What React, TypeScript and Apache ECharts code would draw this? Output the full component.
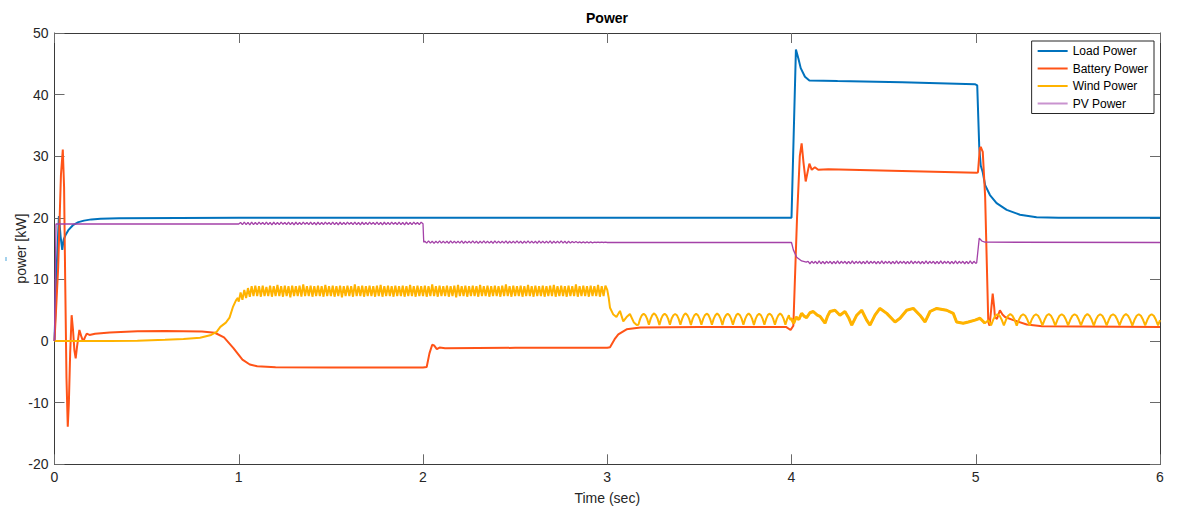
import React, { useEffect, useRef } from "react";
import * as echarts from "echarts";

const FONT = '"Liberation Sans", Arial, Helvetica, sans-serif';

const COLORS = {
  load: "#0072BD",
  battery: "#FF5317",
  wind: "#FFB300",
  pv: "#A442A8",
  pvLegend: "#C993CF",
};

const SERIES_NAMES = ["Load Power", "Battery Power", "Wind Power", "PV Power"];

// ---- Load Power [t (s), kW] ----
const loadPower: [number, number][] = [
  [0, 0], [0.012, 12], [0.024, 20.3], [0.033, 17], [0.042, 14.8], [0.05, 16.5], [0.06, 17.2],
  [0.075, 18.0], [0.1, 18.8], [0.13, 19.3], [0.16, 19.55], [0.2, 19.75], [0.25, 19.85],
  [0.35, 19.95], [1.0, 20.0], [2.0, 20.0], [3.0, 20.0], [4.0, 20.0], [4.024, 47.3],
  [4.037, 45.9], [4.05, 44.3], [4.073, 42.9], [4.097, 42.3], [4.25, 42.2], [4.6, 42.0],
  [4.995, 41.7], [5.008, 41.5], [5.019, 31.5], [5.027, 28.5], [5.038, 27.4], [5.051, 25.3],
  [5.077, 23.7], [5.113, 22.4], [5.168, 21.3], [5.24, 20.5], [5.33, 20.1], [5.45, 20.0],
  [6.0, 20.0],
];

// ---- Battery Power [t (s), kW] ----
const batteryPower: [number, number][] = [
  [0, 0], [0.02, 12], [0.035, 27], [0.045, 31.1], [0.052, 25], [0.058, 10], [0.065, -6],
  [0.072, -13.9], [0.078, -10], [0.085, -2], [0.093, 4.2], [0.1, 2], [0.108, -1.5],
  [0.115, -2.8], [0.122, -1], [0.135, 1.8], [0.145, 0.8], [0.156, -0.1], [0.165, 0.6],
  [0.175, 1.2], [0.19, 1.0], [0.22, 1.2], [0.3, 1.4], [0.45, 1.6], [0.6, 1.65], [0.8, 1.55],
  [0.87, 1.35], [0.92, 0.6], [0.97, -1.1], [1.02, -3.0], [1.06, -3.8], [1.1, -4.1],
  [1.2, -4.25], [1.5, -4.3], [2.0, -4.3], [2.02, -4.2], [2.035, -2], [2.05, -0.6],
  [2.06, -0.7], [2.075, -1.3], [2.09, -1.05], [2.12, -1.15], [2.5, -1.1], [3.0, -1.1],
  [3.015, -1.0], [3.04, 0.3], [3.06, 1.1], [3.105, 1.9], [3.18, 2.2], [3.5, 2.3],
  [3.97, 2.3], [3.995, 1.8], [4.01, 2.5], [4.03, 20], [4.045, 30], [4.055, 32.1],
  [4.065, 29], [4.077, 25.9], [4.088, 27.5], [4.097, 28.8], [4.11, 27.8], [4.127, 28.2],
  [4.145, 27.8], [4.2, 27.9], [4.6, 27.6], [5.005, 27.3], [5.012, 27.4], [5.022, 31.3],
  [5.027, 31.5], [5.038, 30.7], [5.051, 23.4], [5.06, 12.6], [5.068, 3.1], [5.075, 2.5],
  [5.085, 5.5], [5.092, 7.7], [5.1, 5.5], [5.104, 3.9], [5.115, 3.6], [5.131, 5.0],
  [5.145, 4.3], [5.159, 3.9], [5.204, 3.4], [5.277, 2.7], [5.36, 2.4], [6.0, 2.3],
];

// ---- Wind Power ----
const windStart: [number, number][] = [
  [0, 0], [0.3, 0.0], [0.45, 0.05], [0.6, 0.2], [0.7, 0.35], [0.79, 0.55], [0.85, 1.0],
  [0.88, 1.5], [0.9, 2.3], [0.93, 3.0], [0.95, 3.8], [0.968, 5.5], [0.985, 6.6], [0.995, 7.0],
];
// sampled every 0.01 s from t = 1.00 to 3.00
const windBandStart = 1.0;
const windBandStep = 0.01;
const windBandValues = [
  6.4, 7.9, 6.7, 8.3, 7.0, 8.6, 7.2, 8.9, 7.3, 9.0,
  7.3, 8.9, 7.2, 9.0, 7.3, 8.8, 7.3, 9.0, 7.2, 8.9,
  7.3, 9.1, 7.3, 8.9, 7.2, 9.0, 7.3, 8.9, 7.1, 9.0,
  7.3, 8.9, 7.3, 9.0, 7.2, 9.2, 7.3, 8.9, 7.3, 9.0,
  7.2, 8.9, 7.3, 9.0, 7.3, 8.9, 7.2, 9.1, 7.3, 8.9,
  7.3, 9.0, 7.2, 8.9, 7.3, 9.0, 7.1, 8.9, 7.3, 9.0,
  7.3, 8.9, 7.2, 9.2, 7.3, 8.9, 7.3, 9.0, 7.2, 8.9,
  7.3, 9.0, 7.3, 8.9, 7.2, 9.0, 7.3, 9.1, 7.2, 8.9,
  7.3, 9.0, 7.3, 8.9, 7.2, 9.0, 7.3, 8.9, 7.3, 9.0,
  7.2, 8.9, 7.3, 9.1, 7.3, 8.9, 7.2, 9.0, 7.3, 8.9,
  7.3, 9.0, 7.2, 8.9, 7.3, 9.2, 7.3, 8.9, 7.2, 9.0,
  7.3, 8.9, 7.3, 9.0, 7.2, 8.9, 7.3, 9.0, 7.1, 9.1,
  7.3, 8.9, 7.3, 9.0, 7.2, 8.9, 7.3, 9.0, 7.3, 8.9,
  7.2, 9.1, 7.3, 8.9, 7.3, 9.0, 7.2, 8.9, 7.3, 9.0,
  7.3, 8.9, 7.2, 9.0, 7.3, 9.2, 7.3, 8.9, 7.2, 9.0,
  7.3, 8.9, 7.3, 9.0, 7.2, 8.9, 7.3, 9.1, 7.3, 8.9,
  7.2, 9.0, 7.3, 8.9, 7.3, 9.0, 7.2, 8.9, 7.3, 9.0,
  7.3, 9.1, 7.2, 8.9, 7.3, 9.0, 7.3, 8.9, 7.2, 9.0,
  7.3, 8.9, 7.3, 9.2, 7.2, 8.9, 7.3, 9.0, 7.3, 8.9,
  7.2, 9.0, 7.3, 8.9, 7.3, 9.1, 7.2, 8.9, 7.3, 9.0,
  8.3,
];
const windDrop: [number, number][] = [
  [3.008, 7.0], [3.015, 5.4], [3.033, 4.3], [3.05, 3.9], [3.069, 4.9], [3.087, 3.2],
  [3.105, 3.9], [3.123, 4.4], [3.145, 3.0], [3.16, 2.6],
];
// sampled every 0.0095 s from t = 3.169
const windHumpsAStart = 3.169;
const windHumpsAStep = 0.0095;
const windHumpsAValues = [
  2.65, 3.6, 4.2, 4.45, 4.2, 3.6, 2.65, 3.6, 4.25, 4.5, 4.2, 3.6,
  2.6, 3.6, 4.2, 4.45, 4.2, 3.6, 2.65, 3.65, 4.2, 4.4, 4.2, 3.6,
  2.65, 3.6, 4.25, 4.5, 4.2, 3.6, 2.6, 3.6, 4.2, 4.45, 4.2, 3.6,
  2.65, 3.6, 4.2, 4.45, 4.25, 3.6, 2.65, 3.6, 4.2, 4.5, 4.2, 3.6,
  2.6, 3.65, 4.2, 4.45, 4.2, 3.6, 2.65, 3.6, 4.25, 4.45, 4.2, 3.6,
  2.65, 3.6, 4.2, 4.5, 4.2, 3.6, 2.6, 3.6, 4.2, 4.45, 4.2, 3.6,
  2.65, 3.6, 4.25, 4.45, 4.2, 3.6, 2.65, 3.6, 4.2, 4.5, 4.2, 3.6,
  2.65, 3.6, 4.2,
];
const windMid: [number, number][] = [
  [3.99, 3.6], [4.0, 3.6], [4.012, 2.9], [4.025, 3.9], [4.04, 3.5], [4.055, 4.5], [4.07, 4.0],
  [4.082, 3.8], [4.1, 4.6], [4.118, 4.8], [4.14, 4.2], [4.155, 4.0], [4.182, 2.9],
  [4.195, 4.0], [4.209, 4.8], [4.236, 5.0], [4.263, 4.2], [4.29, 4.8], [4.31, 3.8],
  [4.327, 2.6], [4.354, 4.2], [4.381, 5.0], [4.408, 3.4], [4.426, 2.6], [4.453, 4.2],
  [4.48, 5.3], [4.517, 4.5], [4.562, 3.1], [4.589, 3.7], [4.625, 5.0], [4.661, 5.3],
  [4.697, 4.2], [4.725, 3.1], [4.752, 4.8], [4.788, 5.3], [4.842, 5.0], [4.878, 4.5],
  [4.896, 3.1], [4.932, 2.9], [4.96, 3.1], [4.996, 3.4], [5.023, 3.7], [5.05, 2.9],
];
const windSettle: [number, number][] = [[5.068, 3.4]];
// sampled every 0.01162 s from t = 5.083
const windHumpsBStart = 5.083;
const windHumpsBStep = 0.01162;
const windHumpsBValues = [
  2.55, 3.45, 4.1, 4.35, 4.1, 3.45, 2.55, 3.45, 4.1, 4.4, 4.1, 3.45,
  2.5, 3.45, 4.1, 4.35, 4.1, 3.45, 2.55, 3.5, 4.1, 4.35, 4.1, 3.45,
  2.55, 3.45, 4.15, 4.4, 4.1, 3.45, 2.5, 3.45, 4.1, 4.35, 4.1, 3.45,
  2.55, 3.45, 4.1, 4.35, 4.15, 3.45, 2.55, 3.45, 4.1, 4.4, 4.1, 3.45,
  2.5, 3.5, 4.1, 4.35, 4.1, 3.45, 2.55, 3.45, 4.15, 4.35, 4.1, 3.45,
  2.55, 3.45, 4.1, 4.4, 4.1, 3.45, 2.5, 3.45, 4.1, 4.35, 4.1, 3.45,
  2.55, 3.45, 4.1, 4.35, 4.1, 3.45, 2.55,
];
const windEnd: [number, number][] = [[6.0, 3.4]];

// ---- PV Power ----
const pvStart: [number, number][] = [[0, 0], [0.008, 19.0], [0.99, 19.0]];
// sampled every 0.01 s from t = 1.00 to 2.00
const pvBand1Start = 1.0;
const pvBand1Values = [
  19.0, 19.25, 18.9, 19.3, 18.9, 19.25, 18.85, 19.3, 18.9, 19.25,
  18.9, 19.3, 18.95, 19.25, 18.9, 19.3, 18.9, 19.25, 18.85, 19.3,
  18.9, 19.25, 18.9, 19.3, 18.95, 19.25, 18.9, 19.3, 18.9, 19.25,
  18.85, 19.3, 18.9, 19.25, 18.9, 19.3, 18.95, 19.25, 18.9, 19.3,
  18.9, 19.25, 18.85, 19.3, 18.9, 19.25, 18.9, 19.3, 18.95, 19.25,
  18.9, 19.3, 18.9, 19.25, 18.85, 19.3, 18.9, 19.25, 18.9, 19.3,
  18.95, 19.25, 18.9, 19.3, 18.9, 19.25, 18.85, 19.3, 18.9, 19.25,
  18.9, 19.3, 18.95, 19.25, 18.9, 19.3, 18.9, 19.25, 18.85, 19.3,
  18.9, 19.25, 18.9, 19.3, 18.95, 19.25, 18.9, 19.3, 18.9, 19.25,
  18.85, 19.3, 18.9, 19.25, 18.9, 19.3, 18.95, 19.25, 18.9, 19.3,
  19.05,
];
const pvStep2: [number, number][] = [[2.004, 16.05]];
// sampled every 0.01 s from t = 2.01 to 3.00
const pvBand2Start = 2.01;
const pvBand2Values = [
  16.2, 15.9, 16.25, 15.9, 16.2, 15.85, 16.2, 15.9, 16.25, 15.9,
  16.2, 15.9, 16.2, 15.85, 16.25, 15.9, 16.2, 15.9, 16.2, 15.9,
  16.25, 15.85, 16.2, 15.9, 16.2, 15.9, 16.25, 15.9, 16.2, 15.85,
  16.2, 15.9, 16.25, 15.9, 16.2, 15.9, 16.2, 15.85, 16.25, 15.9,
  16.2, 15.9, 16.2, 15.9, 16.25, 15.85, 16.2, 15.9, 16.2, 15.9,
  16.25, 15.9, 16.2, 15.85, 16.2, 15.9, 16.25, 15.9, 16.2, 15.9,
  16.2, 15.85, 16.25, 15.9, 16.2, 15.9, 16.2, 15.9, 16.25, 15.85,
  16.2, 15.9, 16.2, 15.9, 16.25, 15.9, 16.2, 15.85, 16.2, 15.9,
  16.15, 15.95, 16.15, 15.95, 16.1, 15.95, 16.1, 15.95, 16.1, 15.95,
  16.1, 15.95, 16.05, 16.0, 16.05, 16.0, 16.05, 16.0, 16.05, 16.0,
];
const pvMid: [number, number][] = [
  [3.5, 16.0], [4.0, 16.0], [4.01, 14.8], [4.028, 13.6], [4.055, 13.0], [4.08, 12.8],
];
// sampled every 0.01 s from t = 4.09 to 5.00
const pvBand3Start = 4.09;
const pvBand3Values = [
  12.95, 12.55, 12.95, 12.6, 12.95, 12.55, 13.0, 12.55, 12.95, 12.55,
  12.95, 12.6, 12.95, 12.55, 12.95, 12.55, 13.0, 12.55, 12.95, 12.6,
  12.95, 12.55, 12.95, 12.55, 13.0, 12.55, 12.95, 12.6, 12.95, 12.55,
  12.95, 12.55, 13.0, 12.55, 12.95, 12.6, 12.95, 12.55, 12.95, 12.55,
  13.0, 12.55, 12.95, 12.6, 12.95, 12.55, 12.95, 12.55, 13.0, 12.55,
  12.95, 12.6, 12.95, 12.55, 12.95, 12.55, 13.0, 12.55, 12.95, 12.6,
  12.95, 12.55, 12.95, 12.55, 13.0, 12.55, 12.95, 12.6, 12.95, 12.55,
  12.95, 12.55, 13.0, 12.55, 12.95, 12.6, 12.95, 12.55, 12.95, 12.55,
  13.0, 12.55, 12.95, 12.6, 12.95, 12.55, 12.95, 12.55, 13.0, 12.55,
  12.95, 12.6,
];
const pvEnd: [number, number][] = [
  [5.005, 12.7], [5.019, 16.7], [5.035, 16.2], [5.05, 16.05], [6.0, 16.0],
];

function sampled(start: number, step: number, values: number[]): [number, number][] {
  return values.map((v, i) => [Number((start + i * step).toFixed(4)), v] as [number, number]);
}

export default function App() {
  const ref = useRef<HTMLDivElement>(null);

  useEffect(() => {
    if (!ref.current) return;
    const chart = echarts.init(ref.current, undefined, { renderer: "svg" });

    const windAll: [number, number][] = [
      ...windStart,
      ...sampled(windBandStart, windBandStep, windBandValues),
      ...windDrop,
      ...sampled(windHumpsAStart, windHumpsAStep, windHumpsAValues),
      ...windMid,
      ...windSettle,
      ...sampled(windHumpsBStart, windHumpsBStep, windHumpsBValues),
      ...windEnd,
    ];
    const pvAll: [number, number][] = [
      ...pvStart,
      ...sampled(pvBand1Start, 0.01, pvBand1Values),
      ...pvStep2,
      ...sampled(pvBand2Start, 0.01, pvBand2Values),
      ...pvMid,
      ...sampled(pvBand3Start, 0.01, pvBand3Values),
      ...pvEnd,
    ];

    const axisLineColor = "#3a3a3a";
    const tickColor = "#6a6a6a";
    const labelColor = "#262626";

    const baseX = {
      type: "value" as const,
      min: 0,
      max: 6,
      interval: 1,
      splitLine: { show: false },
      axisLine: { show: true, onZero: false, lineStyle: { color: axisLineColor, width: 1 } },
      axisTick: { show: true, inside: true, length: 10, lineStyle: { color: tickColor, width: 1 } },
    };
    const baseY = {
      type: "value" as const,
      min: -20,
      max: 50,
      interval: 10,
      splitLine: { show: false },
      axisLine: { show: true, onZero: false, lineStyle: { color: axisLineColor, width: 1 } },
      axisTick: { show: true, inside: true, length: 10, lineStyle: { color: tickColor, width: 1 } },
    };

    const lineSeries = (name: string, data: [number, number][], color: string, width: number, z: number) => ({
      name,
      type: "line" as const,
      data,
      showSymbol: false,
      symbol: "none",
      xAxisIndex: 0,
      yAxisIndex: 0,
      z,
      lineStyle: { color, width },
      itemStyle: { color },
      emphasis: { disabled: true },
    });

    chart.setOption({
      animation: false,
      backgroundColor: "#ffffff",
      textStyle: { fontFamily: FONT },
      grid: { left: 54.5, right: 17, top: 33, bottom: 47.7, containLabel: false, outerBoundsMode: "none" },
      xAxis: [
        {
          ...baseX,
          position: "bottom",
          axisLabel: { show: true, color: labelColor, fontSize: 14, margin: 6, fontFamily: FONT },
          name: "Time (sec)",
          nameLocation: "middle",
          nameGap: 27,
          nameMoveOverlap: false,
          nameTextStyle: { color: labelColor, fontSize: 14, fontFamily: FONT },
        },
        { ...baseX, position: "top", axisLabel: { show: false } },
      ],
      yAxis: [
        {
          ...baseY,
          position: "left",
          axisLabel: { show: true, color: labelColor, fontSize: 14, margin: 6, fontFamily: FONT },
          name: "power [kW]",
          nameLocation: "middle",
          nameGap: 27,
          nameMoveOverlap: false,
          nameTextStyle: { color: labelColor, fontSize: 14, fontFamily: FONT },
        },
        { ...baseY, position: "right", axisLabel: { show: false } },
      ],
      legend: {
        orient: "vertical",
        right: 23,
        top: 41,
        icon: "rect",
        itemWidth: 30,
        itemHeight: 2,
        itemGap: 3.5,
        padding: [3, 6, 3, 6],
        borderColor: "#262626",
        borderWidth: 1,
        backgroundColor: "#ffffff",
        selectedMode: false,
        textStyle: { fontSize: 12, color: "#000000", fontFamily: FONT, lineHeight: 14 },
        data: [
          { name: SERIES_NAMES[0], itemStyle: { color: COLORS.load } },
          { name: SERIES_NAMES[1], itemStyle: { color: COLORS.battery } },
          { name: SERIES_NAMES[2], itemStyle: { color: COLORS.wind } },
          { name: SERIES_NAMES[3], itemStyle: { color: COLORS.pvLegend } },
        ],
      },
      graphic: [
        {
          type: "text",
          x: 607,
          y: 18,
          style: {
            text: "Power",
            fontSize: 14,
            fontWeight: "bold",
            fontFamily: FONT,
            fill: "#000000",
            textAlign: "center",
            textVerticalAlign: "middle",
          },
        },
        { type: "rect", shape: { x: 5.5, y: 257, width: 1, height: 4 }, style: { fill: "#4aa6dc" } },
      ],
      series: [
        lineSeries(SERIES_NAMES[0], loadPower, COLORS.load, 2, 2),
        lineSeries(SERIES_NAMES[1], batteryPower, COLORS.battery, 2, 3),
        lineSeries(SERIES_NAMES[2], windAll, COLORS.wind, 2, 4),
        lineSeries(SERIES_NAMES[2], windMid, COLORS.wind, 3, 4),
        lineSeries(SERIES_NAMES[3], pvAll, COLORS.pv, 1.3, 5),
      ],
    });

    return () => chart.dispose();
  }, []);

  return (
    <div
      ref={ref}
      style={{ position: "fixed", left: 0, top: 0, width: 1177, height: 512, background: "#fff" }}
    />
  );
}
